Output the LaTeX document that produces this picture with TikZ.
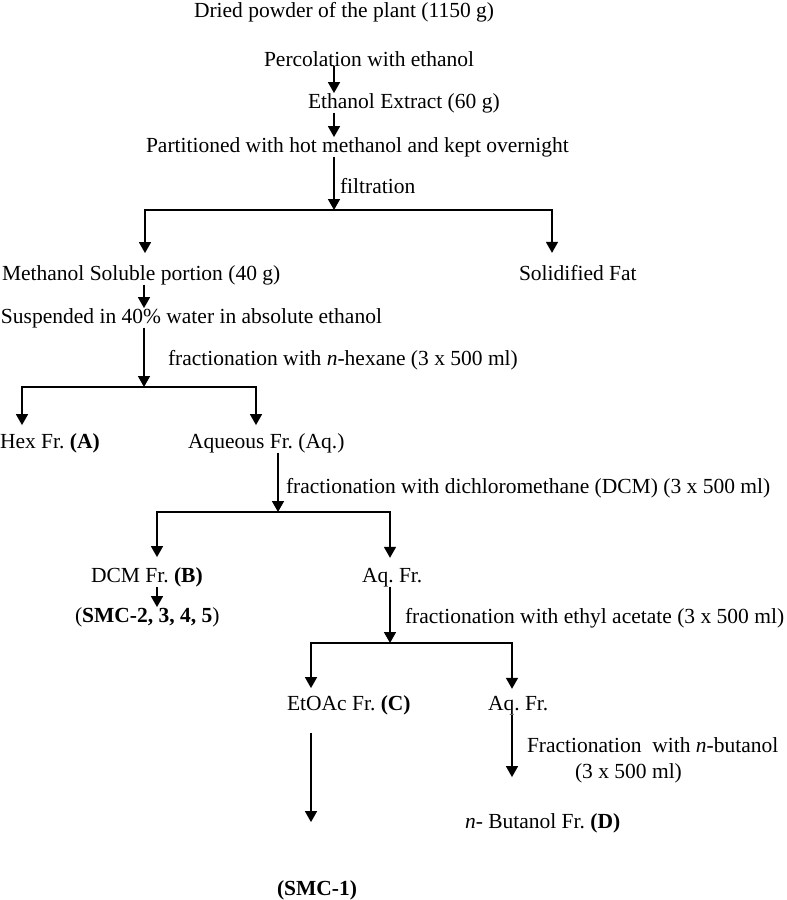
\documentclass[tikz,border=0pt]{standalone}
\usepackage{fontspec}
\setmainfont{Liberation Serif}
\usetikzlibrary{arrows.meta,calc}
\tikzset{
  txt/.style={inner sep=0pt,outer sep=0pt,anchor=base west,
    font=\fontsize{21.5}{26}\selectfont\frenchspacing},
  arr/.style={-{Triangle[width=12pt,length=11pt]},line width=1.6pt},
  bar/.style={line width=1.6pt,line cap=rect},
}

\begin{document}
\begin{tikzpicture}[x=1pt,y=-1pt]
\useasboundingbox (0,0) rectangle (787,900);
% extraction
\node[txt] (dried) at (194,17) {Dried powder of the plant (1150 g)};
\node[txt] (perc) at (264,66) {Percolation with ethanol};
\node[txt] (extr) at (308,108) {Ethanol Extract (60 g)};
\node[txt] (part) at (146,152) {Partitioned with hot methanol and kept overnight};
\node[txt] (filt) at (340,193) {filtration};
\node[txt] (msol) at (2,280) {Methanol Soluble portion (40 g)};
\node[txt] (fat) at (519,280) {Solidified Fat};
\coordinate (b1) at (334,210);
\coordinate (b1l) at (145,210);
\coordinate (b1r) at (552,210);
\draw[arr] (perc.south -| b1) -- (extr.north -| b1);
\draw[arr] (extr.south -| b1) -- (part.north -| b1);
\draw[arr] (part.south -| b1) -- (b1);
\draw[bar] (b1l) -- (b1r);
\draw[arr,shorten >=12pt] (b1l) -- (msol.north -| b1l);
\draw[arr,shorten >=12pt] (b1r) -- (fat.north -| b1r);
% n-hexane
\node[txt] (susp) at (1,323) {Suspended in 40\% water in absolute ethanol};
\node[txt] (hexlab) at (168,365) {fractionation with \textit{n}-hexane (3 x 500 ml)};
\node[txt] (hex) at (0,448) {Hex Fr. \textbf{(A)}};
\node[txt] (aq1) at (188,448) {Aqueous Fr. (Aq.)};
\coordinate (b2) at (144,387);
\coordinate (b2l) at (22,387);
\coordinate (b2r) at (256,387);
\draw[arr] (msol.south -| b2) -- (susp.north -| b2);
\draw[arr] (susp.south -| b2) -- (b2);
\draw[bar] (b2l) -- (b2r);
\draw[arr,shorten >=8pt] (b2l) -- (hex.north -| b2l);
\draw[arr,shorten >=8pt] (b2r) -- (aq1.north -| b2r);
% dichloromethane
\node[txt] (dcmlab) at (286,493) {fractionation with dichloromethane (DCM) (3 x 500 ml)};
\node[txt] (dcm) at (91,582) {DCM Fr. \textbf{(B)}};
\node[txt] (aq2) at (362,582) {Aq. Fr.};
\node[txt] (smc2) at (75,622) {(\textbf{SMC-2, 3, 4, 5})};
\coordinate (b3) at (278,512);
\coordinate (b3l) at (157,512);
\coordinate (b3r) at (390,512);
\draw[arr] (aq1.south -| b3) -- (b3);
\draw[bar] (b3l) -- (b3r);
\draw[arr,shorten >=10pt] (b3l) -- (dcm.north -| b3l);
\draw[arr,shorten >=10pt] (b3r) -- (aq2.north -| b3r);
\draw[arr] (dcm.south -| b3l) -- (smc2.north -| b3l);
% ethyl acetate
\node[txt] (etlab) at (405,623) {fractionation with ethyl acetate (3 x 500 ml)};
\node[txt] (etoac) at (287,710) {EtOAc Fr. \textbf{(C)}};
\node[txt] (aq3) at (488,710) {Aq. Fr.};
\coordinate (b4) at (390,643);
\coordinate (b4l) at (311,643);
\coordinate (b4r) at (512,643);
\draw[arr] (aq2.south -| b4) -- (b4);
\draw[bar] (b4l) -- (b4r);
\draw[arr,shorten >=7pt] (b4l) -- (etoac.north -| b4l);
\draw[arr,shorten >=7pt] (b4r) -- (aq3.north -| b4r);
% n-butanol
\node[txt] (bulab) at (527,752) {Fractionation\ \ with \textit{n}-butanol};
\node[txt] (bulab2) at (575,778) {(3 x 500 ml)};
\node[txt] (buoh) at (465,828) {\textit{n}- Butanol Fr. \textbf{(D)}};
\node[txt] (smc1) at (277,895) {\textbf{(SMC-1)}};
\draw[arr,shorten <=18pt,shorten >=58pt] (etoac.south -| b4l) -- (smc1.north -| b4l);
\draw[arr,shorten >=36pt] (aq3.south -| b4r) -- (buoh.north -| b4r);
\end{tikzpicture}
\end{document}
